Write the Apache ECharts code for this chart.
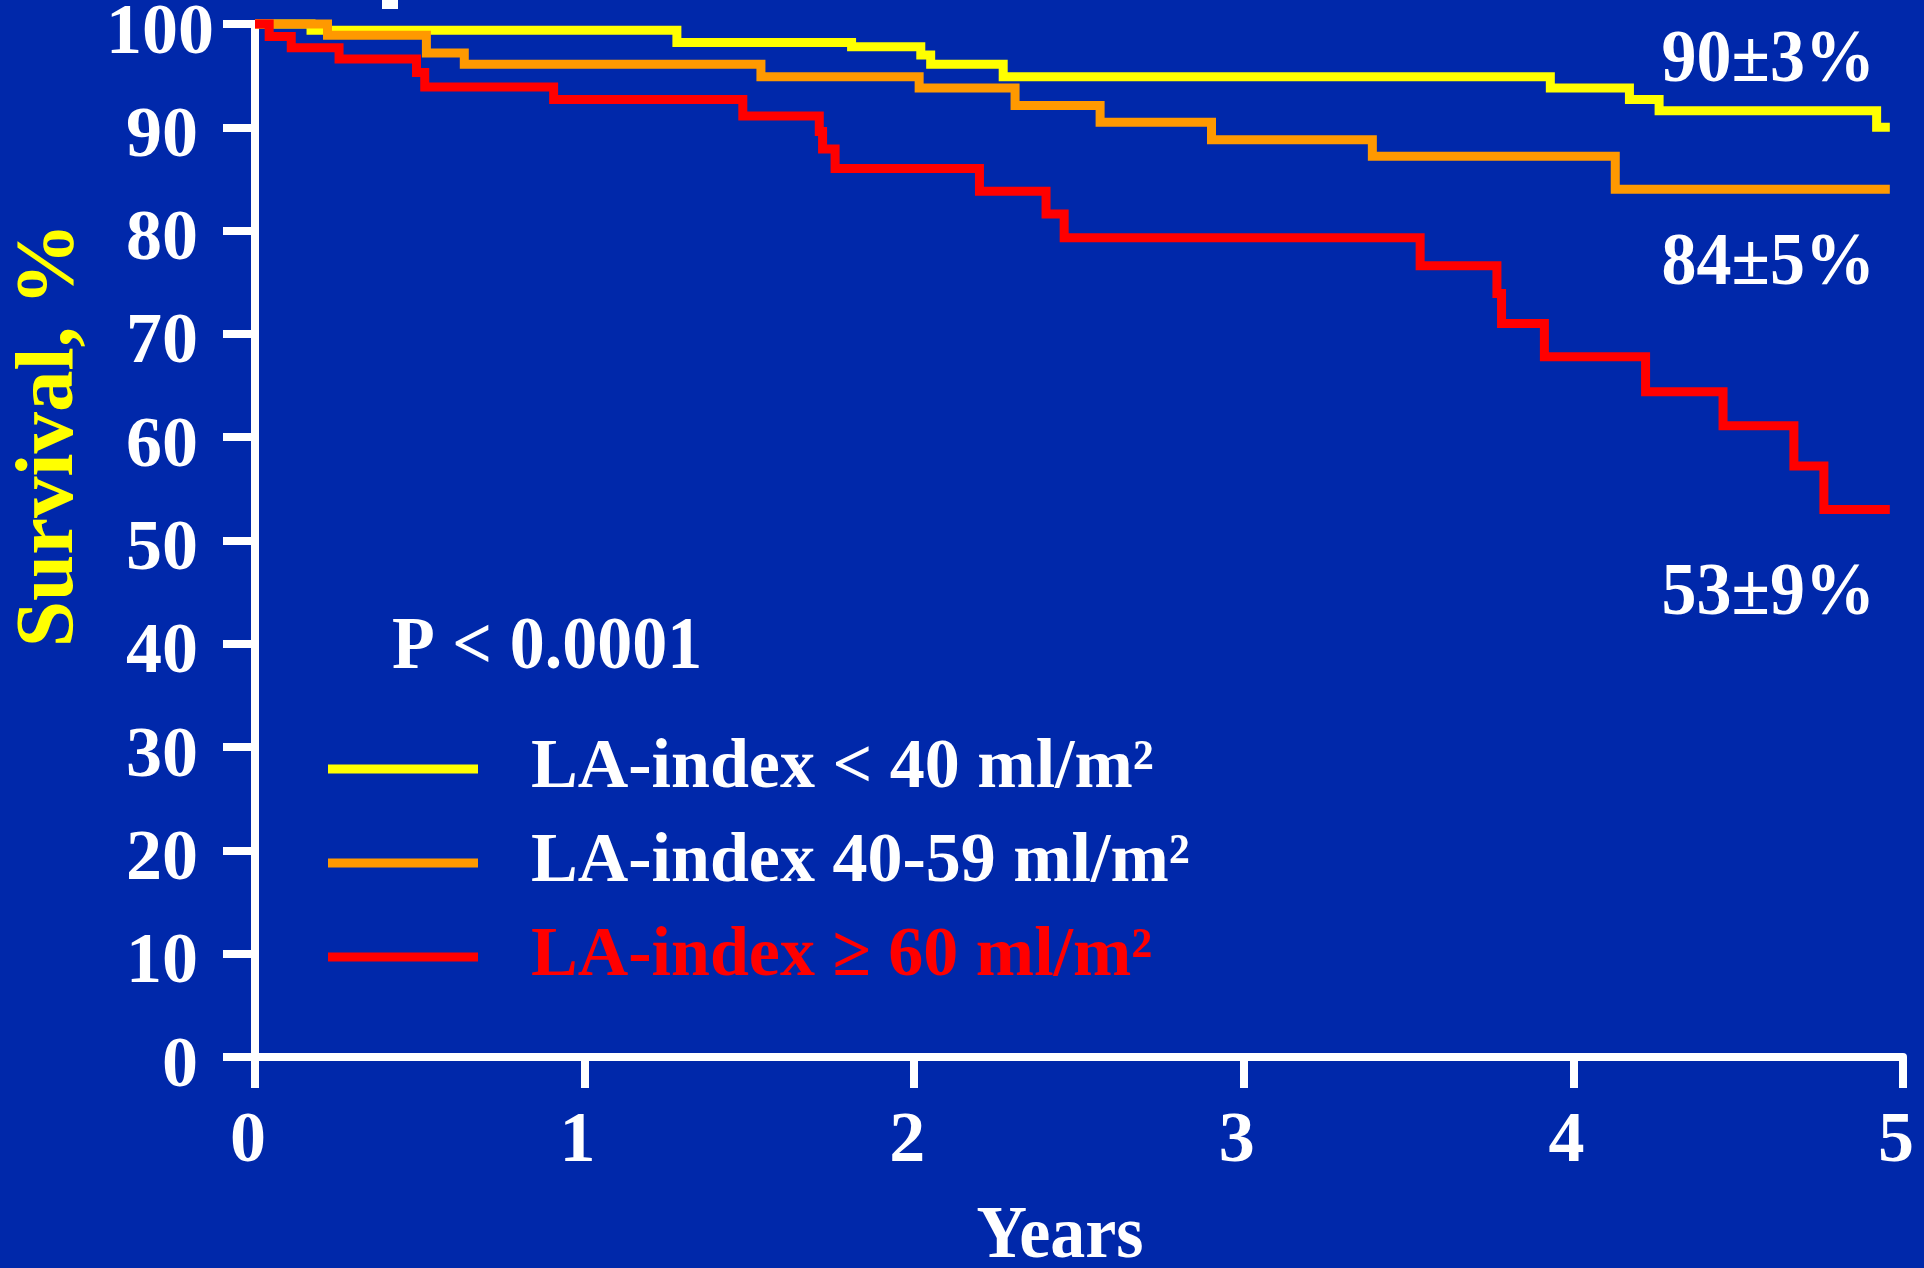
<!DOCTYPE html>
<html>
<head>
<meta charset="utf-8">
<title>Survival by LA-index</title>
<script src="https://cdn.jsdelivr.net/npm/echarts@6/dist/echarts.min.js"></script>
<style>
  html, body { margin: 0; padding: 0; background: #0028AA; }
  #chart { width: 1924px; height: 1268px; }
</style>
</head>
<body>
<div id="chart"></div>
<script>
// Kaplan–Meier steps: time in years, survival in %
const groupNames = ['LA-index < 40 ml/m²', 'LA-index 40-59 ml/m²', 'LA-index ≥ 60 ml/m²'];
const groupColors = ['#FFFF00', '#FF9900', '#FF0000'];
const legendTextColors = ['#FFFFFF', '#FFFFFF', '#FF0000'];

const yearsLow = [0, 0.17, 1.28, 1.81, 2.02, 2.05, 2.27, 3.93, 4.17, 4.26, 4.92, 4.96];
const survLow = [100, 99.4, 98.2, 97.8, 97.0, 96.1, 94.9, 93.8, 92.7, 91.6, 90, 90];

const yearsMid = [0, 0.22, 0.52, 0.635, 1.535, 2.015, 2.306, 2.564, 2.902, 3.39, 4.127, 4.96];
const survMid = [100, 98.9, 97.2, 96.1, 94.9, 93.8, 92.1, 90.5, 88.8, 87.2, 84, 84];

const yearsHigh = [0, 0.043, 0.11, 0.255, 0.49, 0.515, 0.906, 1.48, 1.712, 1.722, 1.76, 2.198,
                   2.40, 2.455, 3.535, 3.768, 3.782, 3.912, 4.219, 4.454, 4.669, 4.76, 4.96];
const survHigh = [100, 98.8, 97.7, 96.6, 95.3, 93.9, 92.7, 91.1, 89.6, 87.9, 86.0, 83.8,
                  81.6, 79.3, 76.6, 73.9, 71.0, 67.8, 64.4, 61.1, 57.2, 53, 53];

// standard errors of the 5-year estimates
const standardErrors = [3, 5, 9];

const xTicks = [0, 1, 2, 3, 4, 5];
const yTicks = [0, 10, 20, 30, 40, 50, 60, 70, 80, 90, 100];

const pValueText = 'P < 0.0001';
const xTitle = 'Years';
const yTitle = 'Survival, %';

const FONT = '"Liberation Serif", "Times New Roman", serif';
const TICK_SIZE = 72;
const TEXT_SIZE = 70;
// the slide lettering is slightly taller than it is wide
const TEXT_STRETCH = 1.06;

const groups = [
  { years: yearsLow, surv: survLow },
  { years: yearsMid, surv: survMid },
  { years: yearsHigh, surv: survHigh }
];

// orange curve is painted over the others where they coincide
const zOrder = [2, 3, 4];

const series = groups.map((g, i) => ({
  name: groupNames[i],
  type: 'line',
  step: 'end',
  symbol: 'none',
  clip: false,
  z: zOrder[i],
  data: g.years.map((t, k) => [t, g.surv[k]]),
  lineStyle: { color: groupColors[i], width: 9, cap: 'butt', join: 'miter' },
  itemStyle: { color: groupColors[i] },
  emphasis: { disabled: true }
}));

function textItem(text, x, y, align, fill, size) {
  return {
    type: 'text',
    x: x,
    y: y,
    scaleY: TEXT_STRETCH,
    style: {
      text: text,
      fill: fill,
      font: 'bold ' + size + 'px ' + FONT,
      align: align,
      verticalAlign: 'middle'
    }
  };
}

// 5-year estimate labels, taken from each curve's final value
const estimateY = [62, 265, 595];
const estimateLabels = groups.map((g, i) =>
  textItem(g.surv[g.surv.length - 1] + '±' + standardErrors[i] + '%',
           1875, estimateY[i], 'right', '#FFFFFF', TEXT_SIZE));

const chart = echarts.init(document.getElementById('chart'), null, { renderer: 'canvas' });

// a short line box lets the glyphs sit a fixed distance from the anchor
const axisLabelBase = {
  color: '#FFFFFF',
  fontFamily: FONT,
  fontWeight: 'bold',
  fontSize: TICK_SIZE,
  lineHeight: 20
};

chart.setOption({
  backgroundColor: '#0028AA',
  animation: false,
  grid: {
    left: 255, right: 21, top: 24, bottom: 211,
    containLabel: false,
    outerBoundsMode: 'none'
  },
  xAxis: {
    type: 'value',
    min: xTicks[0],
    max: xTicks[xTicks.length - 1],
    interval: 1,
    axisLine: { show: true, onZero: false, lineStyle: { color: '#FFFFFF', width: 8 } },
    axisTick: { show: true, inside: false, length: 31, lineStyle: { color: '#FFFFFF', width: 8 } },
    splitLine: { show: false },
    axisLabel: Object.assign({}, axisLabelBase, {
      margin: 75,
      verticalAlign: 'top',
      padding: [0, 14, 0, 0],
      formatter: v => xTicks.includes(v) ? String(v) : ''
    })
  },
  yAxis: [
    {
      type: 'value',
      position: 'left',
      min: yTicks[0],
      max: yTicks[yTicks.length - 1],
      interval: 10,
      axisLine: { show: true, onZero: false, lineStyle: { color: '#FFFFFF', width: 8 } },
      axisTick: { show: true, inside: false, length: 32, lineStyle: { color: '#FFFFFF', width: 8 } },
      splitLine: { show: false },
      axisLabel: Object.assign({}, axisLabelBase, {
        margin: 57,
        align: 'right',
        verticalAlign: 'top',
        formatter: v => (yTicks.includes(v) && v !== 100) ? String(v) : ''
      })
    },
    {
      // top tick label sits a little closer to the axis
      type: 'value',
      position: 'left',
      min: yTicks[0],
      max: yTicks[yTicks.length - 1],
      interval: 10,
      axisLine: { show: false },
      axisTick: { show: false },
      splitLine: { show: false },
      axisLabel: Object.assign({}, axisLabelBase, {
        margin: 41,
        align: 'right',
        verticalAlign: 'top',
        formatter: v => v === 100 ? String(v) : ''
      })
    }
  ],
  legend: {
    orient: 'vertical',
    left: 328,
    top: 734,
    itemWidth: 150,
    itemHeight: 9,
    itemGap: 24,
    icon: 'rect',
    selectedMode: false,
    padding: 0,
    textStyle: {
      fontFamily: FONT,
      fontWeight: 'bold',
      fontSize: TEXT_SIZE,
      lineHeight: 70,
      color: '#FFFFFF',
      padding: [0, 0, 0, 48]
    },
    data: groupNames.map((n, i) => ({
      name: n,
      itemStyle: { color: groupColors[i] },
      textStyle: { color: legendTextColors[i] }
    }))
  },
  series: series,
  graphic: [
    {
      type: 'rect',
      shape: { x: 382, y: 0, width: 16, height: 9 },
      style: { fill: '#FFFFFF' }
    },
    {
      type: 'text',
      x: 51,
      y: 435,
      rotation: Math.PI / 2,
      style: {
        text: yTitle,
        fill: '#FFFF00',
        font: 'bold 83px ' + FONT,
        align: 'center',
        verticalAlign: 'middle'
      }
    },
    textItem(xTitle, 1060, 1238, 'center', '#FFFFFF', TEXT_SIZE),
    textItem(pValueText, 392, 649, 'left', '#FFFFFF', TEXT_SIZE)
  ].concat(estimateLabels)
});
</script>
</body>
</html>
